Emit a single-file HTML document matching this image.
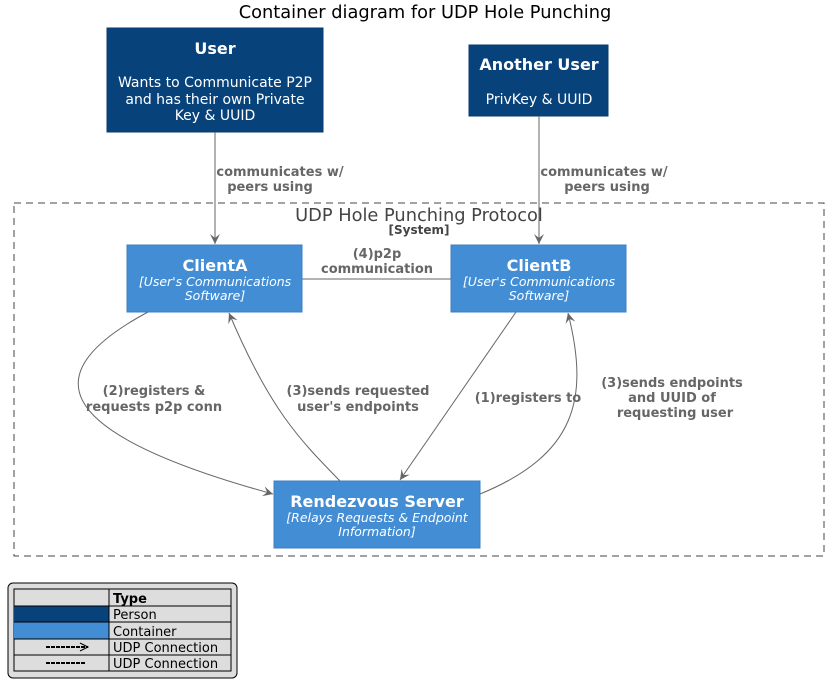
<!DOCTYPE html>
<html><head><meta charset="utf-8"><style>body{margin:0;background:#fff}svg{display:block}</style></head>
<body>
<svg width="834" height="688" viewBox="0 0 834 688" xmlns="http://www.w3.org/2000/svg" font-family="DejaVu Sans, Liberation Sans, sans-serif">
<defs><marker id="a" markerWidth="12" markerHeight="12" refX="10" refY="5" orient="auto" markerUnits="userSpaceOnUse"><path d="M0,0 L10,5 L0,10 L4,5 Z" fill="#666"/></marker></defs>
<text x="425" y="18" text-anchor="middle" font-size="17.8" fill="#000">Container diagram for UDP Hole Punching</text>
<rect x="14" y="203" width="810" height="353" fill="none" stroke="#444" stroke-dasharray="7,5"/>
<text x="419" y="221" text-anchor="middle" font-size="17.8" fill="#444">UDP Hole Punching Protocol</text>
<text x="419" y="234" text-anchor="middle" font-size="12" font-weight="bold" fill="#444">[System]</text>
<rect x="107" y="28" width="216" height="104" fill="#08427B" stroke="#073B6F"/>
<text x="215" y="54" text-anchor="middle" font-size="16" font-weight="bold" fill="#fff">User</text>
<g font-size="14" fill="#fff" text-anchor="middle"><text x="215" y="87">Wants to Communicate P2P</text><text x="215" y="104">and has their own Private</text><text x="215" y="120">Key &amp; UUID</text></g>
<rect x="469" y="45" width="139" height="71" fill="#08427B" stroke="#073B6F"/>
<text x="539" y="70" text-anchor="middle" font-size="16" font-weight="bold" fill="#fff">Another User</text>
<text x="539" y="104" text-anchor="middle" font-size="14" fill="#fff">PrivKey &amp; UUID</text>
<g stroke="#666" stroke-width="1" fill="none">
<line x1="215" y1="132" x2="215" y2="244" marker-end="url(#a)"/>
<line x1="539" y1="116" x2="539" y2="244" marker-end="url(#a)"/>
<line x1="302" y1="279" x2="451" y2="279"/>
<path d="M148,312 C40,370 40,430 273,494" marker-end="url(#a)"/>
<path d="M340,481 C300,440 270,410 229,313" marker-end="url(#a)"/>
<line x1="516" y1="312" x2="400" y2="480" marker-end="url(#a)"/>
<path d="M480,494 C575,455 590,400 568,313" marker-end="url(#a)"/>
</g>
<g font-size="13" font-weight="bold" fill="#666" text-anchor="middle">
<text x="280" y="176">communicates w/</text><text x="270" y="191">peers using</text>
<text x="604" y="176">communicates w/</text><text x="607" y="191">peers using</text>
<text x="377" y="258">(4)p2p</text><text x="377" y="273">communication</text>
<text x="154" y="395">(2)registers &amp;</text><text x="154" y="411">requests p2p conn</text>
<text x="358" y="395">(3)sends requested</text><text x="358" y="411">user's endpoints</text>
<text x="528" y="402">(1)registers to</text>
<text x="672" y="387">(3)sends endpoints</text><text x="672" y="402">and UUID of</text><text x="675" y="417">requesting user</text>
</g>
<g fill="#438DD5" stroke="#3C7FC0"><rect x="127" y="245" width="175" height="67"/><rect x="451" y="245" width="175" height="67"/><rect x="274" y="481" width="206" height="67"/></g>
<g fill="#fff" text-anchor="middle">
<text x="215" y="271" font-size="16" font-weight="bold">ClientA</text>
<text x="215" y="286" font-size="12.5" font-style="italic">[User's Communications</text><text x="215" y="300" font-size="12.5" font-style="italic">Software]</text>
<text x="539" y="271" font-size="16" font-weight="bold">ClientB</text>
<text x="539" y="286" font-size="12.5" font-style="italic">[User's Communications</text><text x="539" y="300" font-size="12.5" font-style="italic">Software]</text>
<text x="377" y="507" font-size="16" font-weight="bold">Rendezvous Server</text>
<text x="377" y="522" font-size="12.5" font-style="italic">[Relays Requests &amp; Endpoint</text><text x="377" y="536" font-size="12.5" font-style="italic">Information]</text>
</g>
<rect x="8" y="583" width="229" height="95" rx="5" fill="#DDDDDD" stroke="#000"/>
<rect x="14" y="589" width="217" height="82" fill="none" stroke="#000"/>
<rect x="14" y="606" width="95" height="16" fill="#08427B"/>
<rect x="14" y="622" width="95" height="17" fill="#438DD5"/>
<g stroke="#000"><line x1="109" y1="589" x2="109" y2="671"/><line x1="14" y1="606" x2="231" y2="606"/><line x1="14" y1="622" x2="231" y2="622"/><line x1="14" y1="639" x2="231" y2="639"/><line x1="14" y1="655" x2="231" y2="655"/>
<line x1="46" y1="647" x2="88" y2="647" stroke-width="2" stroke-dasharray="4,1"/><path d="M80,643 L88,647 L80,651" fill="none"/>
<line x1="46" y1="663" x2="86" y2="663" stroke-width="2" stroke-dasharray="4,1"/></g>
<g font-size="13" fill="#000"><text x="113" y="603" font-weight="bold">Type</text><text x="113" y="619">Person</text><text x="113" y="636">Container</text><text x="113" y="652">UDP Connection</text><text x="113" y="668">UDP Connection</text></g>
</svg>
</body></html>
